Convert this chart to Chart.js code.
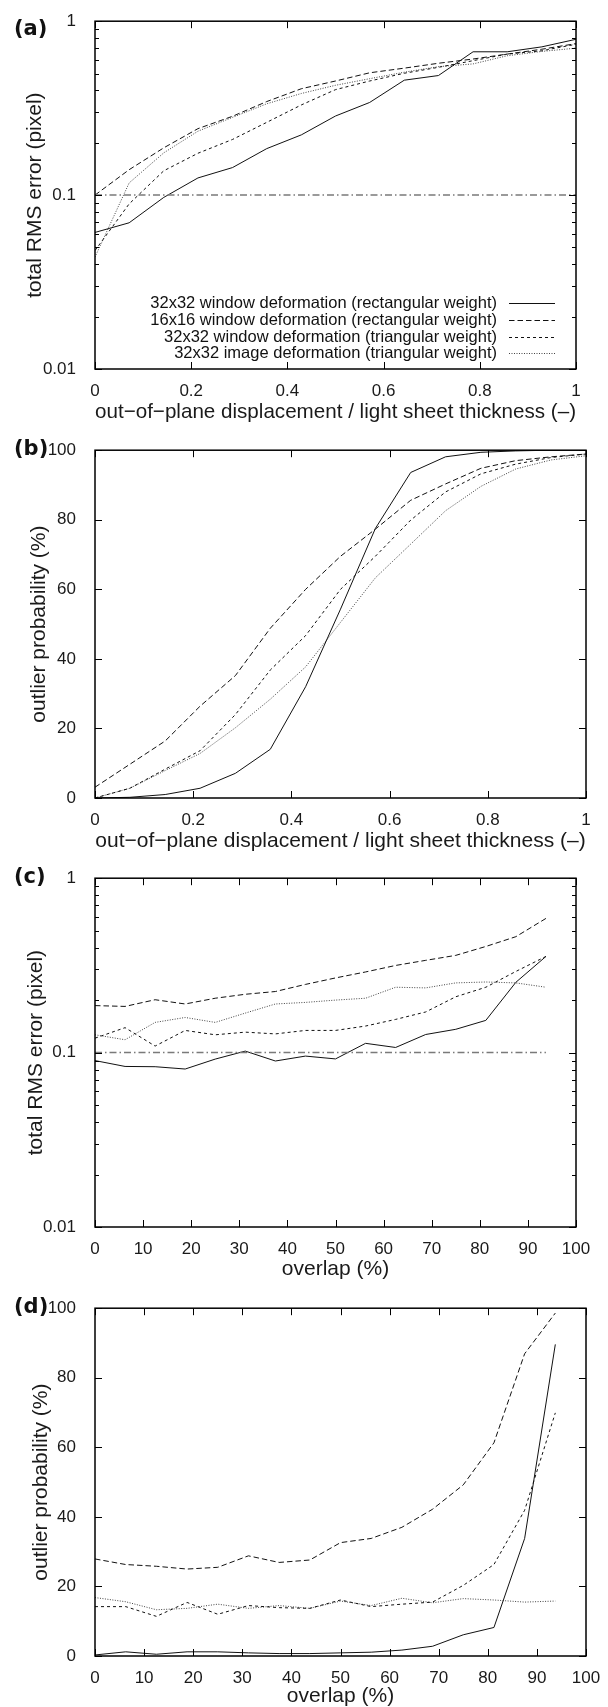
<!DOCTYPE html>
<html>
<head>
<meta charset="utf-8">
<script src="https://cdn.jsdelivr.net/npm/chart.js@4.4.1/dist/chart.umd.min.js"></script>
<style>
    html, body { margin: 0; padding: 0; background: #fff; overflow: hidden; }
    .panel { position: absolute; left: 0; width: 608px; height: 429px; }
</style>
</head>
<body>
<div class="panel" style="top:0px"><canvas id="chart-a" width="608" height="429"></canvas></div>
<div class="panel" style="top:429px"><canvas id="chart-b" width="608" height="429"></canvas></div>
<div class="panel" style="top:857px"><canvas id="chart-c" width="608" height="429"></canvas></div>
<div class="panel" style="top:1287px"><canvas id="chart-d" width="608" height="429"></canvas></div>
<script>
// x positions of the samples
const displacement = [0, 0.071, 0.143, 0.214, 0.286, 0.357, 0.429, 0.5, 0.571, 0.643, 0.714, 0.786, 0.857, 0.929, 1];
const overlap = [0, 6.25, 12.5, 18.75, 25, 31.25, 37.5, 43.75, 50, 56.25, 62.5, 68.75, 75, 81.25, 87.5, 93.75];

const seriesNames = [
    '32x32 window deformation (rectangular weight)',
    '16x16 window deformation (rectangular weight)',
    '32x32 window deformation (triangular weight)',
    '32x32 image deformation (triangular weight)'
];

// (a) total RMS error vs displacement
const rmsDispWin32Rect = [0.061, 0.0693, 0.097, 0.1255, 0.144, 0.185, 0.222, 0.285, 0.341, 0.458, 0.487, 0.667, 0.667, 0.712, 0.787];
const rmsDispWin16Rect = [0.100, 0.140, 0.187, 0.241, 0.284, 0.345, 0.409, 0.453, 0.505, 0.537, 0.573, 0.606, 0.647, 0.69, 0.743];
const rmsDispWin32Tri = [0.048, 0.089, 0.138, 0.174, 0.209, 0.262, 0.33, 0.404, 0.453, 0.502, 0.543, 0.593, 0.647, 0.676, 0.737];
const rmsDispImg32Tri = [0.044, 0.1175, 0.175, 0.233, 0.28, 0.335, 0.384, 0.428, 0.467, 0.509, 0.548, 0.568, 0.633, 0.67, 0.70];

// (b) outlier probability vs displacement
const outDispWin32Rect = [0, 0.2, 1.0, 2.8, 7.1, 14, 32, 54.3, 77.5, 93.6, 98.1, 99.4, 99.8, 100, 100];
const outDispWin16Rect = [3.1, 9.7, 16.4, 26.4, 35.2, 48.8, 60, 69.5, 77.3, 85.6, 90.3, 94.8, 97, 98.1, 98.9];
const outDispWin32Tri = [0, 2.8, 8.3, 13.6, 24, 36.8, 46.7, 60, 69.5, 79.9, 88, 93.2, 96, 97.9, 98.9];
const outDispImg32Tri = [0, 2.8, 7.9, 12.8, 20.2, 28.4, 37.7, 50.5, 63.3, 73, 82.6, 89.6, 94.6, 97.2, 98.4];

// (c) total RMS error vs overlap
const rmsOvlWin32Rect = [0.090, 0.0833, 0.083, 0.0805, 0.0918, 0.102, 0.0895, 0.0955, 0.092, 0.113, 0.107, 0.127, 0.136, 0.153, 0.253, 0.356];
const rmsOvlWin16Rect = [0.186, 0.184, 0.201, 0.19, 0.205, 0.216, 0.224, 0.246, 0.268, 0.29, 0.316, 0.338, 0.361, 0.406, 0.462, 0.588];
const rmsOvlWin32Tri = [0.121, 0.139, 0.109, 0.134, 0.1265, 0.131, 0.128, 0.134, 0.134, 0.142, 0.155, 0.171, 0.209, 0.237, 0.292, 0.356];
const rmsOvlImg32Tri = [0.1265, 0.1185, 0.149, 0.159, 0.149, 0.1685, 0.19, 0.194, 0.2, 0.205, 0.237, 0.235, 0.251, 0.254, 0.251, 0.237];

// (d) outlier probability vs overlap
const outOvlWin32Rect = [0.3, 1.2, 0.5, 1.2, 1.2, 0.9, 0.7, 0.7, 0.9, 1.1, 1.7, 2.8, 6.1, 8.2, 33.8, 89.6];
const outOvlWin16Rect = [27.9, 26.3, 25.8, 25, 25.5, 28.8, 26.9, 27.6, 32.6, 33.8, 37, 42.2, 49.2, 61.3, 86.9, 98.6];
const outOvlWin32Tri = [14.2, 14.2, 11.4, 15.4, 12.0, 14.5, 13.9, 13.7, 16.1, 14.2, 14.9, 15.5, 20.3, 26.3, 41.9, 69.9];
const outOvlImg32Tri = [16.8, 15.6, 13.3, 13.7, 14.9, 13.7, 14.5, 13.7, 15.8, 14.5, 16.6, 15.3, 16.5, 16.1, 15.5, 15.8];

// 0.1 pixel reference line
const refDispX = [0, 1];
const refOvlX = [0, 93.75];
const refLevel = [0.1, 0.1];

// axis ticks
const dispTicks = [0, 0.2, 0.4, 0.6, 0.8, 1];
const overlapTicks = [0, 10, 20, 30, 40, 50, 60, 70, 80, 90, 100];
const logTicks = [0.01, 0.1, 1];
const logMinorTicks = [0.02, 0.03, 0.04, 0.05, 0.06, 0.07, 0.08, 0.09, 0.2, 0.3, 0.4, 0.5, 0.6, 0.7, 0.8, 0.9];
const pctTicks = [0, 20, 40, 60, 80, 100];

const FONT = '"Liberation Sans", Arial, Helvetica, sans-serif';
Chart.defaults.font.family = FONT;
Chart.defaults.color = '#1a1a1a';

// line look per series (solid, long dash, short dash, dotted)
const lineLooks = [
    { color: '#111', dash: [] },
    { color: '#111', dash: [5.5, 3] },
    { color: '#111', dash: [3, 3] },
    { color: '#444', dash: [1, 1.5] }
];

function points(xs, ys) {
    return xs.map((x, i) => ({ x: x, y: ys[i] }));
}

function buildDatasets(xs, seriesList, refX) {
    const sets = seriesList.map((ys, i) => ({
        label: seriesNames[i],
        data: points(xs, ys),
        borderColor: lineLooks[i].color,
        borderDash: lineLooks[i].dash,
        borderWidth: 1,
        pointRadius: 0,
        tension: 0,
        fill: false
    }));
    if (refX) {
        sets.unshift({
            label: 'ref',
            data: points(refX, refLevel),
            borderColor: '#7a7a7a',
            borderDash: [7, 3, 1.5, 3],
            borderWidth: 1.5,
            pointRadius: 0,
            tension: 0,
            fill: false
        });
    }
    return sets;
}

// box frame, inward ticks on all four sides, panel tag and the inner legend
const framePlugin = {
    id: 'frame',
    afterDraw(chart, args, opts) {
        const { ctx, chartArea: a, scales: { x, y } } = chart;
        ctx.save();
        ctx.strokeStyle = '#000';
        ctx.lineWidth = 1;
        ctx.beginPath();
        opts.xTicks.forEach(v => {
            const px = Math.round(x.getPixelForValue(v)) + 0.5;
            ctx.moveTo(px, a.bottom); ctx.lineTo(px, a.bottom - 7);
            ctx.moveTo(px, a.top); ctx.lineTo(px, a.top + 7);
        });
        opts.yTicks.forEach(v => {
            const py = Math.round(y.getPixelForValue(v)) + 0.5;
            ctx.moveTo(a.left, py); ctx.lineTo(a.left + 7, py);
            ctx.moveTo(a.right, py); ctx.lineTo(a.right - 7, py);
        });
        (opts.yMinor || []).forEach(v => {
            const py = Math.round(y.getPixelForValue(v)) + 0.5;
            ctx.moveTo(a.left, py); ctx.lineTo(a.left + 4, py);
            ctx.moveTo(a.right, py); ctx.lineTo(a.right - 4, py);
        });
        ctx.stroke();

        ctx.lineWidth = 1.5;
        ctx.strokeRect(a.left, a.top, a.right - a.left, a.bottom - a.top);

        // panel tag, a wide bold face
        ctx.fillStyle = '#111';
        ctx.font = 'bold 21px "DejaVu Sans", ' + FONT;
        ctx.textAlign = 'left';
        ctx.textBaseline = 'middle';
        ctx.fillText(opts.tag, 14, a.top + opts.tagDy);

        if (opts.legend) {
            const rows = [-66, -49, -32, -16];
            ctx.font = '16.5px ' + FONT;
            ctx.textAlign = 'right';
            chart.data.datasets.filter(d => d.label !== 'ref').forEach((d, i) => {
                const ry = a.bottom + rows[i];
                ctx.fillStyle = '#111';
                ctx.fillText(d.label, a.right - 79, ry);
                ctx.strokeStyle = d.borderColor;
                ctx.lineWidth = 1;
                ctx.setLineDash(d.borderDash);
                ctx.beginPath();
                ctx.moveTo(a.right - 67, ry + 0.5);
                ctx.lineTo(a.right - 21, ry + 0.5);
                ctx.stroke();
            });
            ctx.setLineDash([]);
        }
        ctx.restore();
    }
};

function makePanel(id, cfg) {
    const ctx = document.getElementById(id).getContext('2d');
    const xScale = {
        type: 'linear',
        min: cfg.xMin,
        max: cfg.xMax,
        grid: { display: false },
        border: { display: false },
        afterBuildTicks: s => { s.ticks = cfg.xTicks.map(v => ({ value: v })); },
        ticks: {
            font: { size: 17 },
            padding: 4,
            maxRotation: 0,
            callback: v => String(+v.toFixed(2))
        },
        title: {
            display: true,
            text: cfg.xTitle,
            font: { size: 21 },
            padding: { top: 0, bottom: cfg.xTitlePad }
        },
        afterFit: s => { s.height = 429 - cfg.bottom; }
    };
    const yScale = {
        type: cfg.yLog ? 'logarithmic' : 'linear',
        min: cfg.yMin,
        max: cfg.yMax,
        grid: { display: false },
        border: { display: false },
        afterBuildTicks: s => { s.ticks = cfg.yTicks.map(v => ({ value: v })); },
        ticks: {
            font: { size: 17 },
            padding: 11,
            callback: v => String(v)
        },
        title: {
            display: true,
            text: cfg.yTitle,
            font: { size: 21 },
            padding: { top: cfg.yTitlePad, bottom: 0 }
        },
        afterFit: s => { s.width = 95; }
    };
    return new Chart(ctx, {
        type: 'line',
        data: { datasets: cfg.datasets },
        options: {
            responsive: false,
            animation: false,
            layout: { padding: { top: cfg.top, right: 608 - cfg.right, left: 0, bottom: 0 } },
            plugins: {
                legend: { display: false },
                tooltip: { enabled: false },
                frame: {
                    tag: cfg.tag,
                    tagDy: cfg.tagDy,
                    xTicks: cfg.xTicks,
                    yTicks: cfg.yTicks,
                    yMinor: cfg.yMinor,
                    legend: cfg.legend
                }
            },
            scales: { x: xScale, y: yScale }
        },
        plugins: [framePlugin]
    });
}

const dispTitle = 'out\u2212of\u2212plane displacement / light sheet thickness (\u2013)';

makePanel('chart-a', {
    tag: '(a)', tagDy: 8, top: 17, bottom: 369, right: 576,
    xMin: 0, xMax: 1, xTicks: dispTicks, xTitle: dispTitle, xTitlePad: 4,
    yLog: true, yMin: 0.01, yMax: 1, yTicks: logTicks, yMinor: logMinorTicks,
    yTitle: 'total RMS error (pixel)', yTitlePad: 23,
    legend: true,
    datasets: buildDatasets(displacement, [rmsDispWin32Rect, rmsDispWin16Rect, rmsDispWin32Tri, rmsDispImg32Tri], refDispX)
});

makePanel('chart-b', {
    tag: '(b)', tagDy: -1, top: 17, bottom: 369, right: 586,
    xMin: 0, xMax: 1, xTicks: dispTicks, xTitle: dispTitle, xTitlePad: 4,
    yLog: false, yMin: 0, yMax: 100, yTicks: pctTicks,
    yTitle: 'outlier probability (%)', yTitlePad: 27,
    datasets: buildDatasets(displacement, [outDispWin32Rect, outDispWin16Rect, outDispWin32Tri, outDispImg32Tri])
});

makePanel('chart-c', {
    tag: '(c)', tagDy: -1, top: 17, bottom: 370, right: 576,
    xMin: 0, xMax: 100, xTicks: overlapTicks, xTitle: 'overlap (%)', xTitlePad: 4,
    yLog: true, yMin: 0.01, yMax: 1, yTicks: logTicks, yMinor: logMinorTicks,
    yTitle: 'total RMS error (pixel)', yTitlePad: 24,
    datasets: buildDatasets(overlap, [rmsOvlWin32Rect, rmsOvlWin16Rect, rmsOvlWin32Tri, rmsOvlImg32Tri], refOvlX)
});

makePanel('chart-d', {
    tag: '(d)', tagDy: -1, top: 17, bottom: 369, right: 586,
    xMin: 0, xMax: 100, xTicks: overlapTicks, xTitle: 'overlap (%)', xTitlePad: 7,
    yLog: false, yMin: 0, yMax: 100, yTicks: pctTicks,
    yTitle: 'outlier probability (%)', yTitlePad: 29,
    datasets: buildDatasets(overlap, [outOvlWin32Rect, outOvlWin16Rect, outOvlWin32Tri, outOvlImg32Tri])
});
</script>
</body>
</html>
